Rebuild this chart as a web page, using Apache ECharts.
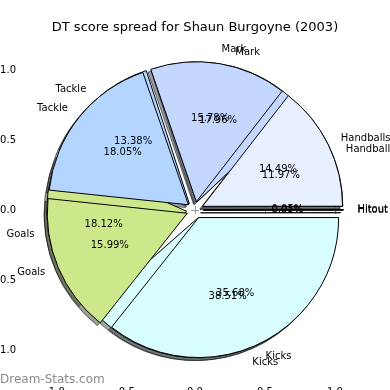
<!DOCTYPE html>
<html><head><meta charset="utf-8">
<script src="https://cdn.jsdelivr.net/npm/echarts@6/dist/echarts.min.js"></script>
<style>html,body{margin:0;padding:0;background:#fff}#c{width:390px;height:390px}</style>
</head><body><div id="c"></div>
<script>
// ---- data ----
const categories = ['Hitout', 'Handballs', 'Mark', 'Tackle', 'Goals', 'Kicks'];
const backValues = [0.05, 11.97, 17.96, 13.38, 18.12, 38.51];
const frontValues = [0.01, 14.49, 15.78, 18.05, 15.99, 35.68];
const sliceColors = ['#808080', '#e8efff', '#c4d7ff', '#b4d5ff', '#cde88b', '#d9feff'];
const axisTickValues = [-1, -0.5, 0, 0.5, 1];
const titleText = 'DT score spread for Shaun Burgoyne (2003)';
const watermarkText = 'Dream-Stats.com';

// ---- layout ----
const FONT = 'DejaVu Sans';
const CX = 195, CY = 210, R = 140;
const EXPLODE = 0.06 * R;
const SHADOW_DX = -2.8, SHADOW_DY = 2.8;

function hexToRgb(h) {
  const n = parseInt(h.slice(1), 16);
  return [(n >> 16) & 255, (n >> 8) & 255, n & 255];
}
function shadowColor(h) {
  const c = hexToRgb(h).map(v => Math.round(v * 0.3));
  return 'rgba(' + c.join(',') + ',0.5)';
}

function wedgePie(values, shadow) {
  return {
    type: 'pie',
    center: shadow ? [CX + SHADOW_DX, CY + SHADOW_DY] : [CX, CY],
    radius: R,
    startAngle: 0,
    clockwise: false,
    selectedMode: 'multiple',
    selectedOffset: EXPLODE,
    avoidLabelOverlap: false,
    silent: true,
    animation: false,
    label: { show: false },
    labelLine: { show: false },
    emphasis: { disabled: true },
    data: values.map((v, i) => {
      const st = shadow
        ? { color: shadowColor(sliceColors[i]), borderColor: 'rgba(0,0,0,0.5)', borderWidth: 1 }
        : { color: sliceColors[i], borderColor: '#000', borderWidth: 1 };
      return { name: categories[i], value: v, selected: true, itemStyle: st, select: { itemStyle: st } };
    })
  };
}

function pctPie(values) {
  const target = 0.66 * R;
  return {
    type: 'pie', center: [CX, CY], radius: 2 * (target - 3),
    startAngle: 0, clockwise: false, avoidLabelOverlap: false, silent: true, animation: false,
    emphasis: { disabled: true },
    labelLayout: { hideOverlap: false, moveOverlap: null },
    itemStyle: { color: 'rgba(0,0,0,0)', borderWidth: 0 },
    label: { show: true, position: 'inside', color: '#000', fontSize: 10, fontFamily: FONT,
      formatter: p => p.value.toFixed(2) + '%' },
    labelLine: { show: false },
    data: values.map((v, i) => ({ name: categories[i], value: v }))
  };
}

function namePie(values) {
  return {
    type: 'pie', center: [CX, CY], radius: 1.16 * R,
    startAngle: 0, clockwise: false, avoidLabelOverlap: false, silent: true, animation: false,
    emphasis: { disabled: true },
    labelLayout: { hideOverlap: false, moveOverlap: null },
    itemStyle: { color: 'rgba(0,0,0,0)', borderWidth: 0 },
    label: { show: true, position: 'outside', alignTo: 'none', distanceToLabelLine: 0,
      color: '#000', fontSize: 10, fontFamily: FONT, formatter: '{b}' },
    labelLine: { show: false, length: 0, length2: 0 },
    data: values.map((v, i) => ({ name: categories[i], value: v }))
  };
}

function valAxis(pos, showLabel) {
  return {
    type: 'value', min: -1.25, max: 1.25, position: pos,
    axisLine: { show: false },
    splitLine: { show: false },
    axisTick: { show: true, inside: true, length: 4, lineStyle: { color: '#999', width: 1 },
      customValues: axisTickValues },
    axisLabel: { show: showLabel, customValues: axisTickValues, formatter: v => v.toFixed(1),
      color: '#000', fontSize: 10, fontFamily: FONT, margin: pos === 'bottom' ? 2 : 4,
      hideOverlap: false }
  };
}

const chart = echarts.init(document.getElementById('c'), null, { renderer: 'canvas' });
chart.setOption({
  animation: false,
  backgroundColor: '#fff',
  textStyle: { fontFamily: FONT },
  title: { text: titleText, left: 'center', top: 21, padding: 0,
    textStyle: { fontSize: 13, fontWeight: 'normal', color: '#000', fontFamily: FONT } },
  grid: { left: 20, right: 20, top: 35, bottom: 5, containLabel: false, outerBoundsMode: 'none' },
  xAxis: [valAxis('bottom', true), valAxis('top', false)],
  yAxis: [valAxis('left', true), valAxis('right', false)],
  graphic: [{ type: 'text', left: 0, top: 374, silent: true,
    style: { text: watermarkText, fontSize: 12, fontFamily: FONT, fill: '#8a8a8a' } }],
  series: [
    wedgePie(backValues, true),
    wedgePie(frontValues, true),
    wedgePie(backValues, false),
    wedgePie(frontValues, false),
    pctPie(backValues),
    namePie(backValues),
    pctPie(frontValues),
    namePie(frontValues)
  ]
});
</script></body></html>
